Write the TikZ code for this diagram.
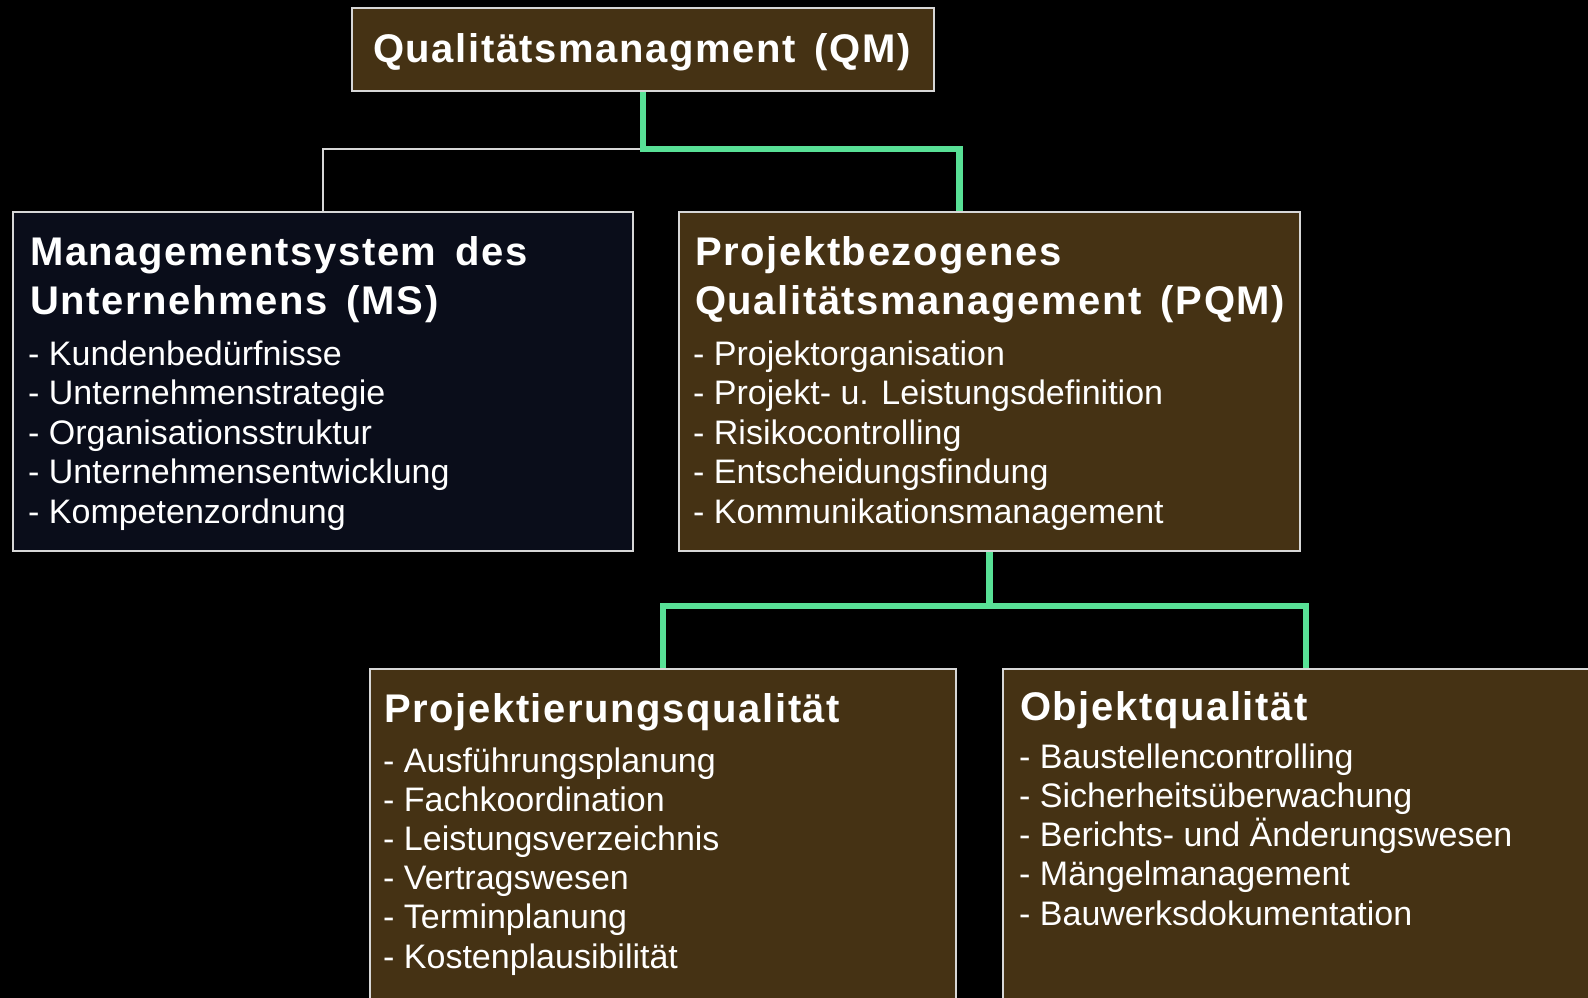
\documentclass[tikz,border=0pt]{standalone}
\usepackage{fontspec}
\setmainfont{Liberation Sans}
\newfontfamily\titelfont[LetterSpace=4,WordSpace=1.5]{Liberation Sans}
\definecolor{braun}{RGB}{69,50,20}
\definecolor{nachtblau}{RGB}{10,13,26}
\definecolor{hellgruen}{RGB}{88,224,150}
\definecolor{rahmen}{RGB}{215,215,215}
\begin{document}
\begin{tikzpicture}[x=1pt, y=-1pt,
    kasten/.style={draw=rahmen, line width=2pt, fill=braun, anchor=north west, inner sep=0pt},
    titel/.style={anchor=base west, inner sep=0pt, text=white, font=\titelfont\bfseries\fontsize{40}{48}\selectfont},
    punkt/.style={anchor=base west, inner sep=0pt, text=white, font=\fontsize{34}{39}\selectfont},
    gruen/.style={draw=hellgruen, line width=6.5pt},
    duenn/.style={draw=rahmen, line width=2pt}]
    \useasboundingbox (0,0) rectangle (1588,998);
    \fill[black] (0,0) rectangle (1588,998);
    \clip (0,0) rectangle (1588,998);

    % Kaesten
    \node[kasten, minimum width=582pt, minimum height=83pt] (qm) at (351,7) {};
    \node[kasten, fill=nachtblau, minimum width=620pt, minimum height=339pt] (ms) at (12,211) {};
    \node[kasten, minimum width=621pt, minimum height=339pt] (pqm) at (678,211) {};
    \node[kasten, minimum width=586pt, minimum height=350pt] (proj) at (369,668) {};
    \node[kasten, minimum width=606pt, minimum height=350pt] (obj) at (1002,668) {};

    % Titel
    \node[titel, anchor=base] (qm-t) at (642,63) {Qualitätsmanagment (QM)};
    \node[titel] (ms-t1) at (30,265) {Managementsystem des};
    \node[titel] (ms-t2) at (30,314) {Unternehmens (MS)};
    \node[titel] (pqm-t1) at (695,265) {Projektbezogenes};
    \node[titel] (pqm-t2) at (695,314) {Qualitätsmanagement (PQM)};
    \node[titel] (proj-t) at (384,722) {Projektierungsqualität};
    \node[titel] (obj-t) at (1020,720) {Objektqualität};

    % Punkte
    \foreach \txt [count=\i from 0] in {Kundenbedürfnisse, Unternehmenstrategie,
        Organisationsstruktur, Unternehmensentwicklung, Kompetenzordnung}
        \node[punkt] (ms-\i) at (28,365+39.5*\i) {- \txt};
    \foreach \txt [count=\i from 0] in {Projektorganisation, Projekt- u. Leistungsdefinition,
        Risikocontrolling, Entscheidungsfindung, Kommunikationsmanagement}
        \node[punkt] (pqm-\i) at (693,365+39.5*\i) {- \txt};
    \foreach \txt [count=\i from 0] in {Ausführungsplanung, Fachkoordination,
        Leistungsverzeichnis, Vertragswesen, Terminplanung, Kostenplausibilität}
        \node[punkt] (proj-\i) at (383,772+39.2*\i) {- \txt};
    \foreach \txt [count=\i from 0] in {Baustellencontrolling, Sicherheitsüberwachung,
        Berichts- und Änderungswesen, Mängelmanagement, Bauwerksdokumentation}
        \node[punkt] (obj-\i) at (1019,768+39.25*\i) {- \txt};

    % Verbindungen
    \draw[duenn] (qm.south) -- ++(0,57) -| (ms.north);
    \draw[gruen] (qm.south) -- ++(0,57) -| ([xshift=-30pt]pqm.north);
    \draw[gruen] (pqm.south) -- ++(0,54) coordinate (gabel);
    \draw[gruen] (proj.north) |- (gabel) -| (obj.north);
\end{tikzpicture}
\end{document}
